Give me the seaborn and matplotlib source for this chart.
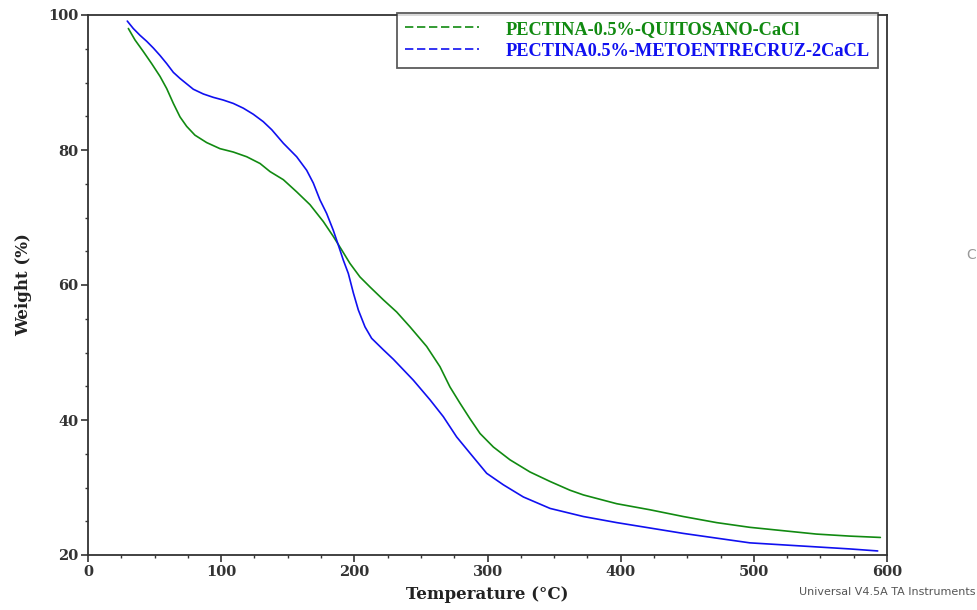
import matplotlib
matplotlib.use("Agg")
import matplotlib.pyplot as plt
from matplotlib.lines import Line2D
from matplotlib.ticker import MultipleLocator
import seaborn as sns
import pandas as pd

# TGA curves: temperature (°C) vs. residual weight (%)
temp_quitosano = [30.3, 35.3, 41.5, 47.8, 54.1, 59.1, 64.1, 69.1, 74.1, 80.3, 89.1,
                  99.1, 109.1, 119.2, 129.2, 136.7, 146.7, 156.7, 166.7, 176.7, 184.2,
                  190.5, 196.7, 204.2, 211.8, 221.8, 231.8, 241.8, 254.3, 264.3, 271.8,
                  279.3, 286.8, 294.4, 304.4, 316.9, 331.9, 346.9, 361.9, 372, 397,
                  422, 447, 472, 497, 522, 547, 572, 595]
weight_quitosano = [98.0, 96.3, 94.6, 92.8, 90.9, 89.1, 86.9, 84.9, 83.5, 82.2, 81.1,
                    80.2, 79.7, 79.0, 78.0, 76.8, 75.6, 73.8, 71.9, 69.4, 67.2,
                    65.2, 63.2, 61.2, 59.7, 57.8, 56.0, 53.8, 50.9, 47.9, 44.9,
                    42.5, 40.2, 38.0, 36.0, 34.1, 32.3, 30.9, 29.6, 28.9, 27.6,
                    26.7, 25.7, 24.8, 24.1, 23.6, 23.1, 22.8, 22.6]

temp_entrecruz = [29.5, 34.0, 39.0, 44.1, 49.1, 54.1, 59.1, 64.1, 69.1, 74.1, 79.1,
                  86.6, 94.1, 101.6, 109.1, 116.6, 124.1, 131.6, 138.0, 146.7, 156.7,
                  164.2, 169.2, 174.2, 179.2, 184.2, 188.0, 191.7, 195.5, 199.3, 203.0,
                  208.0, 213.0, 221.8, 229.3, 244.3, 256.8, 266.8, 276.8, 286.8, 299.4,
                  311.9, 326.9, 347, 372, 397, 422, 447, 472, 497, 522, 547, 572, 593]
weight_entrecruz = [99.1, 98.0, 97.0, 96.1, 95.1, 94.0, 92.8, 91.5, 90.6, 89.8, 89.0,
                    88.3, 87.8, 87.4, 86.9, 86.2, 85.3, 84.2, 83.0, 81.0, 79.0,
                    77.0, 75.1, 72.6, 70.6, 68.1, 65.9, 63.7, 61.7, 58.8, 56.3,
                    53.8, 52.1, 50.4, 49.0, 45.9, 43.0, 40.5, 37.5, 35.1, 32.1,
                    30.4, 28.6, 26.9, 25.7, 24.8, 24.0, 23.2, 22.5, 21.8, 21.5, 21.2, 20.9, 20.6]

labels = ["PECTINA-0.5%-QUITOSANO-CaCl", "PECTINA0.5%-METOENTRECRUZ-2CaCL"]
colors = ["#118a11", "#1010f0"]
x_ticks = [0, 100, 200, 300, 400, 500, 600]
y_ticks = [20, 40, 60, 80, 100]

df = pd.concat([
    pd.DataFrame({"Temperature": temp_quitosano, "Weight": weight_quitosano, "Sample": labels[0]}),
    pd.DataFrame({"Temperature": temp_entrecruz, "Weight": weight_entrecruz, "Sample": labels[1]}),
], ignore_index=True)

sns.set_style("ticks")
plt.rcParams["font.family"] = ["DejaVu Serif"]

fig = plt.figure(figsize=(9.77, 6.10), dpi=100)
ax = fig.add_axes([88 / 977, 1 - 555 / 610, 799 / 977, 540 / 610])

sns.lineplot(data=df, x="Temperature", y="Weight", hue="Sample",
             palette=dict(zip(labels, colors)), sort=False, estimator=None,
             linewidth=1.2, ax=ax, legend=False)

ax.set_xlim(0, 600)
ax.set_ylim(20, 100)
ax.set_xticks(x_ticks)
ax.set_yticks(y_ticks)
ax.xaxis.set_minor_locator(MultipleLocator(25))
ax.yaxis.set_minor_locator(MultipleLocator(5))

spine_col = "#333333"
for s in ax.spines.values():
    s.set_visible(True)
    s.set_color(spine_col)
    s.set_linewidth(1.3)

ax.tick_params(which="major", direction="out", length=5, width=1.2, color=spine_col,
               labelsize=10.5, labelcolor="#333333", pad=2)
ax.tick_params(which="minor", direction="out", length=2.5, width=1.0, color=spine_col)
ax.tick_params(top=False, right=False, which="both")
for lab in ax.get_xticklabels() + ax.get_yticklabels():
    lab.set_fontweight("bold")

ax.set_xlabel("Temperature (°C)", fontsize=12, fontweight="bold", color="#222222")
ax.set_ylabel("Weight (%)", fontsize=12, fontweight="bold", color="#222222")
ax.xaxis.set_label_coords(0.5, -0.058)
ax.yaxis.set_label_coords(-0.07, 0.5)

handles = [Line2D([], [], color=c, linewidth=1.2, linestyle=(0, (5, 2.2))) for c in colors]
leg = ax.legend(handles, labels, loc="upper right", bbox_to_anchor=(0.9887, 1.0037),
                borderaxespad=0, frameon=True, fancybox=False, handlelength=4.0,
                handletextpad=1.5, labelspacing=0.28, borderpad=0.42,
                prop={"family": "Liberation Serif", "weight": "bold", "size": 13.2},
                labelcolor="linecolor")
leg.get_frame().set_edgecolor("#333333")
leg.get_frame().set_linewidth(1.3)

fig.text(0.998, 0.0295, "Universal V4.5A TA Instruments", ha="right", va="center",
         fontsize=8, color="#555555", family="DejaVu Sans")
fig.text(0.9885, 0.582, "C", ha="left", va="center", fontsize=10, color="#999999",
         family="DejaVu Sans")

fig.savefig("out.png", dpi=100, facecolor="white")
